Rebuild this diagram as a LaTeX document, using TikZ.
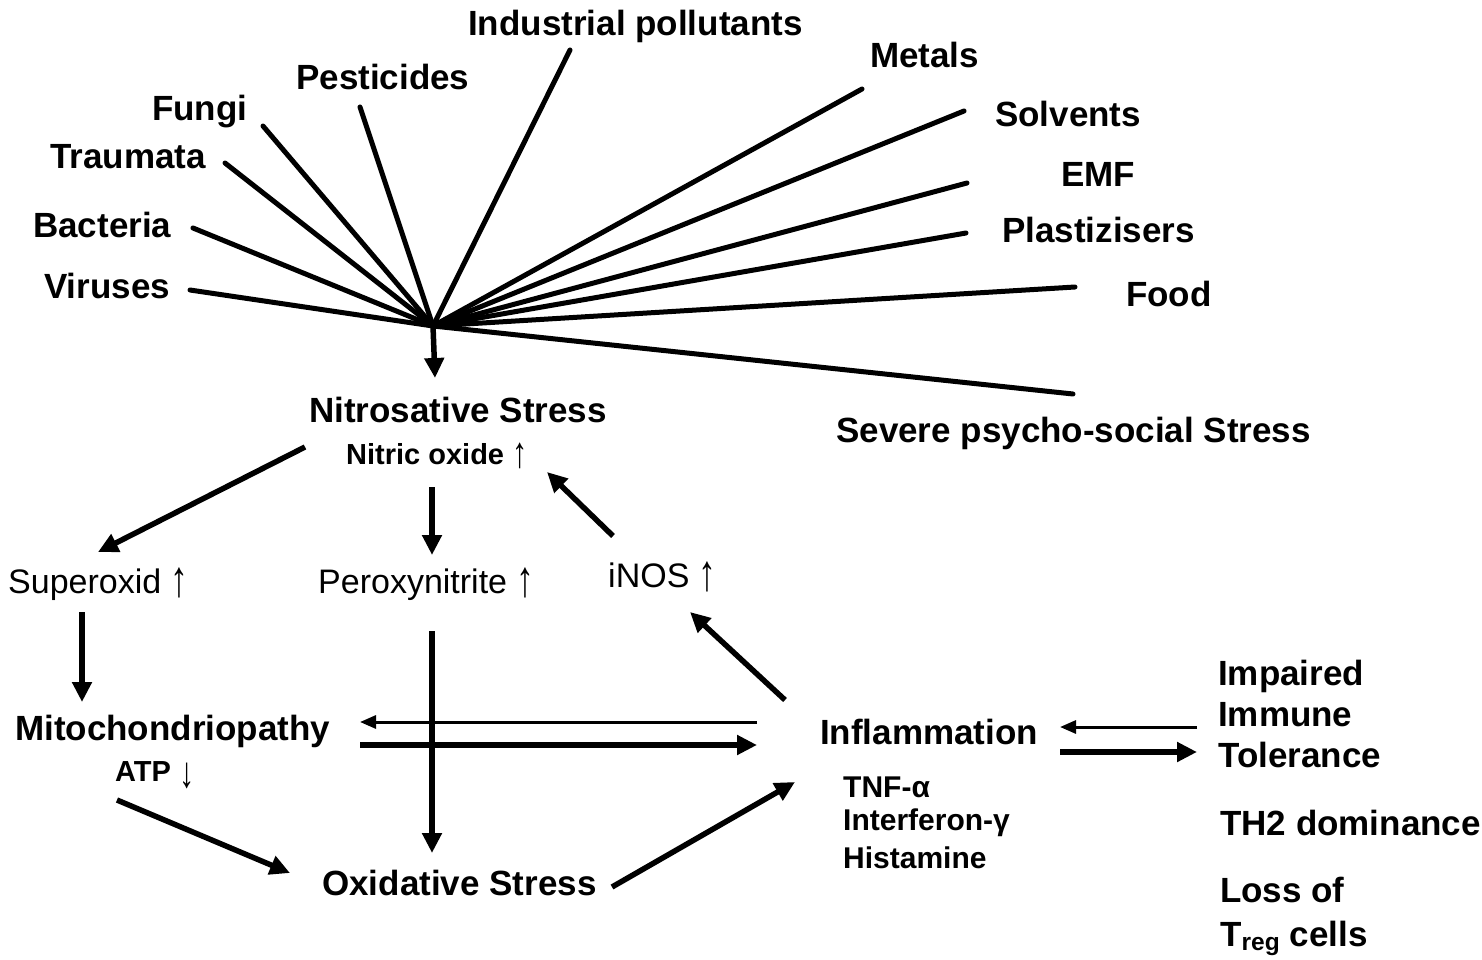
\documentclass[tikz,border=0pt]{standalone}
\usepackage{fontspec}
\setmainfont{Liberation Sans}
\usepackage{tikz}
\usetikzlibrary{arrows.meta}
\tikzset{
  srclabel/.style={font=\bfseries\fontsize{35}{41}\selectfont,anchor=base west,inner sep=0pt},
  sublabel/.style={font=\bfseries\fontsize{29}{34}\selectfont,anchor=base west,inner sep=0pt},
  molabel/.style={font=\fontsize{34}{40}\selectfont,anchor=base west,inner sep=0pt},
  cytlabel/.style={font=\bfseries\fontsize{30}{35}\selectfont,anchor=base west,inner sep=0pt},
  fanline/.style={line width=5pt,line cap=round},
  bigarrow/.style={-{Triangle[length=20pt,width=19pt]},line width=5.5pt},
  thinarrow/.style={-{Triangle[length=16pt,width=13pt]},line width=3pt},
}
\newcommand{\upar}{\ {\mdseries\raisebox{-3pt}{\scalebox{1.05}[1.5]{↑}}}}
\newcommand{\dnar}{\ {\mdseries\raisebox{-6pt}{\scalebox{1.05}[1.5]{↓}}}}

\begin{document}
\begin{tikzpicture}[x=1pt,y=-1pt]
% Page: 1482 x 960, y runs downwards.
\fill[white] (0,0) rectangle (1482,960);
\useasboundingbox (0,0) rectangle (1482,960);

% Sources around the fan.
\node[srclabel] (vir)  at (44,298)   {Viruses};
\node[srclabel] (bac)  at (33,237)   {Bacteria};
\node[srclabel] (trau) at (50,168)   {Traumata};
\node[srclabel] (fung) at (152,121)  {Fungi};
\node[srclabel] (pest) at (296,90)   {Pesticides};
\node[srclabel] (indu) at (468,36)   {Industrial pollutants};
\node[srclabel] (meta) at (870,68)   {Metals};
\node[srclabel] (solv) at (995,127)  {Solvents};
\node[srclabel] (emf)  at (1061,186) {EMF};
\node[srclabel] (plas) at (1002,242) {Plastizisers};
\node[srclabel] (food) at (1126,306) {Food};
\node[srclabel] (psy)  at (836,442)  {Severe psycho-social Stress};

\coordinate (hub) at (433,326);
\coordinate (virEnd)  at (190,290);
\coordinate (bacEnd)  at (193,228);
\coordinate (trauEnd) at (225,163);
\coordinate (fungEnd) at (263,126);
\coordinate (pestEnd) at (360,107);
\coordinate (induEnd) at (570,50);
\coordinate (metaEnd) at (862,89);
\coordinate (solvEnd) at (964,111);
\coordinate (emfEnd)  at (967,183);
\coordinate (plasEnd) at (966,233);
\coordinate (foodEnd) at (1075,287);
\coordinate (psyEnd)  at (1073,394);

\draw[fanline] (virEnd) -- (hub);
\draw[fanline] (bacEnd) -- (hub);
\draw[fanline] (trauEnd) -- (hub);
\draw[fanline] (fungEnd) -- (hub);
\draw[fanline] (pestEnd) -- (hub);
\draw[fanline] (induEnd) -- (hub);
\draw[fanline] (metaEnd) -- (hub);
\draw[fanline] (solvEnd) -- (hub);
\draw[fanline] (emfEnd) -- (hub);
\draw[fanline] (plasEnd) -- (hub);
\draw[fanline] (foodEnd) -- (hub);
\draw[fanline] (psyEnd) -- (hub);

% Central cascade.
\node[srclabel] (nitro) at (309,422) {Nitrosative Stress};
\node[sublabel] (nox)   at (346,464) {Nitric oxide\upar};
\node[molabel]  (supox) at (8,593)   {Superoxid\upar};
\node[molabel]  (perox) at (318,593) {Peroxynitrite\upar};
\node[molabel]  (inos)  at (608,587) {iNOS\upar};
\node[srclabel] (mito)  at (15,740)  {Mitochondriopathy};
\node[sublabel] (atp)   at (115,781) {ATP\dnar};
\node[srclabel] (oxid)  at (322,895) {Oxidative Stress};
\node[srclabel] (infl)  at (820,744) {Inflammation};
\node[cytlabel] (tnf)   at (843,797) {TNF-α};
\node[cytlabel] (ifn)   at (843,830) {Interferon-γ};
\node[cytlabel] (hist)  at (843,868) {Histamine};

\draw[bigarrow] (hub) -- ([shift={(126,-44)}]nitro.base west);
\draw[bigarrow] ([shift={(-4,25)}]nitro.base west) -- ([shift={(90,-41)}]supox.base west);
\draw[bigarrow] ([shift={(86,23)}]nox.base west) -- ([shift={(114,-38)}]perox.base west);
\draw[bigarrow] ([shift={(5,-51)}]inos.base west) -- ([shift={(201,8)}]nox.base west);
\draw[bigarrow] ([shift={(74,19)}]supox.base west) -- ([shift={(67,-38)}]mito.base west);
\draw[bigarrow] ([shift={(114,38)}]perox.base west) -- ([shift={(110,-42)}]oxid.base west);
\draw[thinarrow] ([shift={(-63,-22)}]infl.base west) -- ([shift={(345,-18)}]mito.base west);
\draw[bigarrow] ([shift={(345,5)}]mito.base west) -- ([shift={(-63,1)}]infl.base west);
\draw[bigarrow] ([shift={(2,19)}]atp.base west) -- ([shift={(-32,-22)}]oxid.base west);
\draw[bigarrow] ([shift={(290,-8)}]oxid.base west) -- ([shift={(-25,38)}]infl.base west);
\draw[bigarrow] ([shift={(-35,-44)}]infl.base west) -- ([shift={(82,25)}]inos.base west);

% Immune side.
\node[srclabel] (imp)  at (1218,685) {Impaired};
\node[srclabel] (imm)  at (1218,726) {Immune};
\node[srclabel] (tol)  at (1218,767) {Tolerance};
\node[srclabel] (th2)  at (1220,835) {TH2 dominance};
\node[srclabel] (loss) at (1220,902) {Loss of};
\node[srclabel] (treg) at (1220,946) {T\textsubscript{reg} cells};

\draw[thinarrow] ([shift={(-21,1)}]imm.base west) -- ([shift={(240,-17)}]infl.base west);
\draw[bigarrow] ([shift={(240,8)}]infl.base west) -- ([shift={(-21,-15)}]tol.base west);
\end{tikzpicture}
\end{document}
